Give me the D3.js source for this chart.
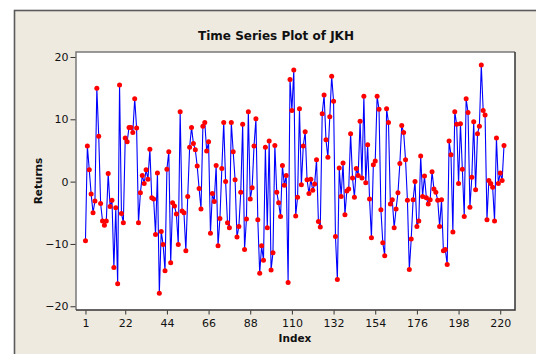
<!DOCTYPE html>
<html><head><meta charset="utf-8">
<script src="https://cdn.jsdelivr.net/npm/d3@7"></script>
<style>html,body{margin:0;padding:0;background:#fff;}svg{display:block;}</style>
</head><body>
<script>
const title = "Time Series Plot of JKH";
const xLabel = "Index";
const yLabel = "Returns";
const xTicks = [1,22,44,66,88,110,132,154,176,198,220];
const yTicks = [-20,-10,0,10,20];
const returns = [
-9.5,5.7,1.9,-2.0,-5.0,-3.1,15.0,7.3,-3.5,-6.3,
-7.0,-6.3,1.3,-4.0,-3.0,-13.8,-4.2,-16.4,15.5,-5.1,
-6.6,7.0,6.4,8.7,8.7,7.9,13.3,8.6,-6.6,-1.8,
1.0,-0.3,1.9,0.4,5.2,-2.6,-2.8,-8.5,1.4,-17.9,
-8.0,-10.1,-14.3,2.0,4.8,-13.0,-3.4,-3.9,-5.2,-10.1,
11.2,-4.7,-5.0,-11.1,-2.4,5.5,8.7,6.1,5.1,2.5,
-1.1,-4.4,8.9,9.5,4.9,6.4,-8.3,-1.9,-3.2,2.6,
-10.3,-5.9,2.1,9.5,0.0,-6.6,-7.4,9.5,4.8,0.3,
-8.9,-7.2,-1.7,9.2,-10.9,-6.0,11.2,-2.8,-1.0,5.7,
10.1,-6.1,-14.7,-10.3,-12.6,5.5,-7.4,6.5,-14.2,-11.4,
5.8,-1.7,-3.4,-5.6,2.6,-0.6,1.0,-16.2,16.4,11.4,
17.9,-5.5,-2.5,11.7,-0.5,5.7,8.0,0.3,-1.9,0.4,
-1.4,-0.4,3.5,-6.4,-7.3,10.9,13.9,6.7,3.9,10.4,
16.9,12.9,-8.8,-15.7,2.2,-2.4,3.0,-5.3,-1.5,-1.2,
7.7,0.6,-2.5,2.1,1.0,9.7,0.6,13.7,-0.2,5.9,
-2.8,-9.0,2.7,3.3,13.7,11.6,-4.5,-9.8,-11.9,11.7,
9.5,-3.6,-2.9,-7.4,-4.4,-1.8,2.9,9.0,7.9,3.5,
-3.0,-14.1,-9.2,-2.9,0.0,-7.2,-6.3,4.1,-2.4,0.9,
-2.6,-3.6,-2.9,1.6,-1.2,-1.7,-3.0,-7.2,-2.9,-11.1,
-10.9,-13.3,6.5,4.3,-8.1,11.2,9.2,-0.3,9.3,2.0,
-5.6,13.3,11.1,-4.1,0.7,9.6,-1.3,7.7,8.9,18.7,
11.4,10.7,-6.1,0.2,-0.3,-0.9,-6.3,7.0,-0.3,1.4,
0.2,5.8
];

const W = 536, H = 354;
const plot = {l:76, t:52, r:515, b:310};
const svg = d3.select("body").append("svg").attr("width",W).attr("height",H);

// outer panel
svg.append("rect").attr("x",0).attr("y",0).attr("width",W).attr("height",H).attr("fill","#fff");
svg.append("rect").attr("x",14.5).attr("y",10.5).attr("width",W).attr("height",H)
  .attr("fill","#EEEAE0").attr("stroke","#5a5a5a").attr("stroke-width",1.6);

const x = d3.scaleLinear().domain([-4, 227.8]).range([plot.l, plot.r]);
const y = d3.scaleLinear().domain([-20.6, 20.8]).range([plot.b, plot.t]);

// plot area
svg.append("rect").attr("x",plot.l).attr("y",plot.t).attr("width",plot.r-plot.l).attr("height",plot.b-plot.t).attr("fill","#fff");

const data = returns.map((v,i)=>({i:i+1, v}));

const g = svg.append("g");
g.append("path").datum(data)
  .attr("d", d3.line().x(d=>x(d.i)).y(d=>y(d.v)))
  .attr("fill","none").attr("stroke","#0000ff").attr("stroke-width",1.1).attr("stroke-linejoin","round");
g.selectAll("circle").data(data).join("circle")
  .attr("cx",d=>x(d.i)).attr("cy",d=>y(d.v)).attr("r",2.5).attr("fill","#ff0000");

// frame
svg.append("path").attr("d",`M${plot.l},${plot.b}V${plot.t}H${plot.r}`).attr("fill","none").attr("stroke","#7a7a7a").attr("stroke-width",1.5);
svg.append("path").attr("d",`M${plot.r},${plot.t}V${plot.b}H${plot.l}`).attr("fill","none").attr("stroke","#333").attr("stroke-width",1.5);

// axes
const font = "'DejaVu Sans', Verdana, sans-serif";
const yAxis = d3.axisLeft(y).tickValues(yTicks).tickSize(5).tickPadding(2).tickFormat(d3.format("d"));
const ya = svg.append("g").attr("transform",`translate(${plot.l-0.5},0)`).call(yAxis);
const xAxis = d3.axisBottom(x).tickValues(xTicks).tickSize(4).tickPadding(5).tickFormat(d3.format("d"));
const xa = svg.append("g").attr("transform",`translate(0,${plot.b+0.5})`).call(xAxis);
[ya,xa].forEach(a=>{
  a.select(".domain").remove();
  a.selectAll("line").attr("stroke","#333");
  a.selectAll("text").attr("fill","#111").style("font-family",font).style("font-size","11px");
});

svg.append("text").attr("x",276).attr("y",39.5).attr("text-anchor","middle")
  .style("font-family",font).style("font-size","12px").style("font-weight","bold").attr("fill","#111").text(title);
svg.append("text").attr("x",295).attr("y",341.5).attr("text-anchor","middle")
  .style("font-family",font).style("font-size","10.5px").style("font-weight","bold").attr("fill","#111").text(xLabel);
svg.append("text").attr("transform","translate(41.5,181) rotate(-90)").attr("text-anchor","middle")
  .style("font-family",font).style("font-size","10.5px").style("font-weight","bold").attr("fill","#111").text(yLabel);
</script>
</body></html>
